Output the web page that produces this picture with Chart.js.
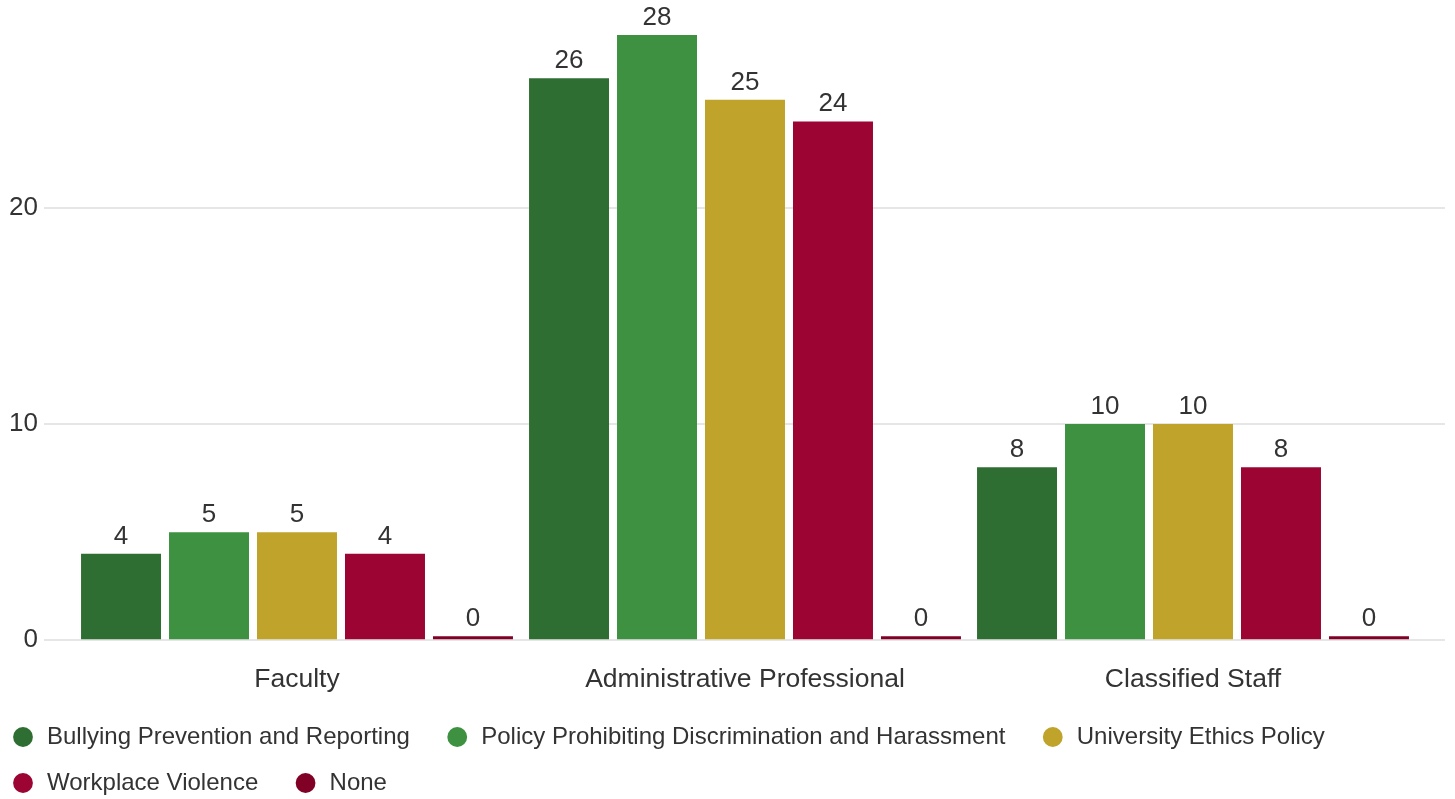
<!DOCTYPE html>
<html>
<head>
<meta charset="utf-8">
<script src="https://cdn.jsdelivr.net/npm/chart.js@4.4.1/dist/chart.umd.min.js"></script>
<style>
  html, body { margin: 0; padding: 0; background: #fff; }
  #wrap { width: 1455px; height: 799px; }
</style>
</head>
<body>
<div id="wrap"><canvas id="trainingChart" width="1455" height="799"></canvas></div>
<script>
// Chart data
const categories = ['Faculty', 'Administrative Professional', 'Classified Staff'];
const seriesNames = [
    'Bullying Prevention and Reporting',
    'Policy Prohibiting Discrimination and Harassment',
    'University Ethics Policy',
    'Workplace Violence',
    'None'
];
const bullyingValues = [4, 26, 8];
const discriminationValues = [5, 28, 10];
const ethicsValues = [5, 25, 10];
const violenceValues = [4, 24, 8];
const noneValues = [0, 0, 0];
const yTicks = [0, 10, 20];

const seriesValues = [bullyingValues, discriminationValues, ethicsValues, violenceValues, noneValues];
const seriesColors = ['#2e6e32', '#3d9141', '#c0a32a', '#9b0433', '#800026'];

Chart.defaults.font.family = '"Liberation Sans", Arial, sans-serif';
Chart.defaults.color = '#333';

// value labels above the bars
const barLabels = {
    id: 'barLabels',
    afterDatasetsDraw(chart) {
        const ctx = chart.ctx;
        ctx.save();
        ctx.font = '26px "Liberation Sans", Arial, sans-serif';
        ctx.fillStyle = '#333';
        ctx.textAlign = 'center';
        ctx.textBaseline = 'alphabetic';
        chart.data.datasets.forEach((ds, i) => {
            chart.getDatasetMeta(i).data.forEach((bar, j) => {
                ctx.fillText(String(ds.data[j]), bar.x, bar.y - 10);
            });
        });
        ctx.restore();
    }
};

// nudge the legend to where the original sits
const legendNudge = {
    id: 'legendNudge',
    afterLayout(chart) {
        const lg = chart.legend;
        lg.left -= 11;
        lg.top += 6;
    }
};

const tickFilter = v => (yTicks.includes(v) ? v : null);

const ctx = document.getElementById('trainingChart').getContext('2d');
const trainingChart = new Chart(ctx, {
    type: 'bar',
    data: {
        labels: categories,
        datasets: seriesNames.map((name, i) => ({
            label: name,
            data: seriesValues[i],
            backgroundColor: seriesColors[i],
            borderWidth: 0,
            minBarLength: 4,
            categoryPercentage: 0.982,
            barPercentage: 0.909
        }))
    },
    options: {
        responsive: false,
        animation: false,
        layout: { padding: { top: 35, left: 0, right: 10, bottom: 0 } },
        scales: {
            x: {
                grid: { display: true, drawOnChartArea: false, drawTicks: false },
                border: { display: false },
                ticks: { font: { size: 26.5 }, padding: 24, color: '#333' },
                afterFit(scale) { scale.height -= 23; }
            },
            y: {
                min: 0,
                max: 28,
                grid: { color: '#e6e6e6', lineWidth: 2, tickLength: 29 },
                border: { display: false },
                ticks: { stepSize: 10, font: { size: 26 }, padding: 6, color: '#333', callback: tickFilter },
                afterFit(scale) { scale.width = 73; }
            },
            y2: {
                position: 'right',
                min: 0,
                max: 28,
                grid: { color: '#e6e6e6', lineWidth: 2, tickLength: 28, drawOnChartArea: false },
                border: { display: false },
                ticks: { stepSize: 10, display: false, callback: tickFilter }
            }
        },
        plugins: {
            tooltip: { enabled: false },
            legend: {
                position: 'bottom',
                align: 'start',
                labels: {
                    usePointStyle: true,
                    pointStyle: 'circle',
                    boxWidth: 24,
                    boxHeight: 14,
                    padding: 22,
                    color: '#333',
                    font: { size: 24 },
                    generateLabels(chart) {
                        const items = Chart.defaults.plugins.legend.labels.generateLabels(chart);
                        items.forEach(it => { it.text = it.text + '\u00a0\u00a0'; });
                        return items;
                    }
                }
            }
        }
    },
    plugins: [barLabels, legendNudge]
});
</script>
</body>
</html>
